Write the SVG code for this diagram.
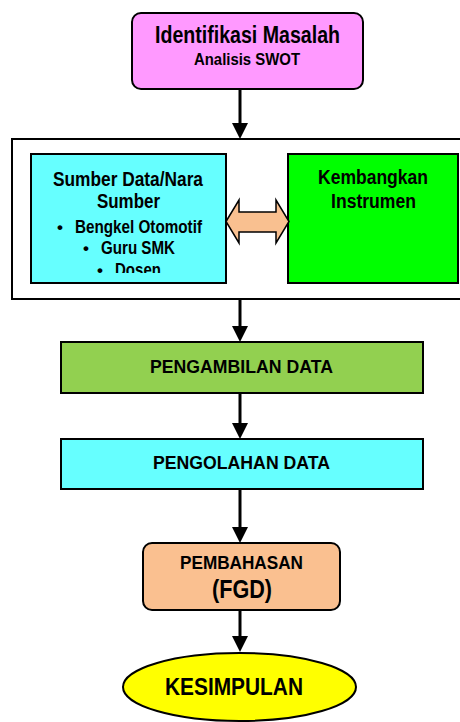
<svg xmlns="http://www.w3.org/2000/svg" width="460" height="722" viewBox="0 0 460 722">
  <style>
    .t { font-family: "Liberation Sans", Arial, sans-serif; font-weight: bold; fill: #000; text-anchor: middle; }
    .box { stroke: #000; stroke-width: 2; }
    .conn { stroke: #000; stroke-width: 3; fill: none; marker-end: url(#ah); }
  </style>
  <defs>
    <marker id="ah" markerUnits="userSpaceOnUse" markerWidth="16" markerHeight="16" refX="6" refY="8" orient="auto">
      <path d="M0,0 L16,8 L0,16 z" fill="#000"/>
    </marker>
    <clipPath id="clipCyan">
      <rect x="31" y="154" width="195" height="119"/>
    </clipPath>
  </defs>
  <rect x="0" y="0" width="460" height="722" fill="#fff"/>

  <g id="frame">
    <rect x="12" y="139" width="460" height="160" fill="none" stroke="#000" stroke-width="2"/>
  </g>

  <g id="identifikasi">
    <rect class="box" x="132" y="13" width="231" height="76" rx="9" fill="#FF99FF"/>
    <text class="t" x="247.5" y="43" font-size="23" textLength="185" lengthAdjust="spacingAndGlyphs">Identifikasi Masalah</text>
    <text class="t" x="247" y="65" font-size="17" textLength="106" lengthAdjust="spacingAndGlyphs">Analisis SWOT</text>
  </g>

  <g id="sumber">
    <rect class="box" x="31" y="154" width="195" height="129" fill="#66FFFF"/>
    <g clip-path="url(#clipCyan)">
      <text class="t" x="128" y="186" font-size="20" textLength="150" lengthAdjust="spacingAndGlyphs">Sumber Data/Nara</text>
      <text class="t" x="128.5" y="208" font-size="20" textLength="63" lengthAdjust="spacingAndGlyphs">Sumber</text>
      <text class="t" x="60" y="233" font-size="17">•</text>
      <text class="t" x="138.5" y="233" font-size="18" textLength="127" lengthAdjust="spacingAndGlyphs">Bengkel Otomotif</text>
      <text class="t" x="86" y="254" font-size="17">•</text>
      <text class="t" x="138" y="254" font-size="18" textLength="74" lengthAdjust="spacingAndGlyphs">Guru SMK</text>
      <text class="t" x="100" y="276" font-size="17">•</text>
      <text class="t" x="138" y="276" font-size="18" textLength="46" lengthAdjust="spacingAndGlyphs">Dosen</text>
    </g>
  </g>

  <g id="instrumen">
    <rect class="box" x="288" y="154" width="170" height="129" fill="#00FF00"/>
    <text class="t" x="373" y="184" font-size="20" textLength="110" lengthAdjust="spacingAndGlyphs">Kembangkan</text>
    <text class="t" x="373.5" y="208" font-size="20" textLength="85" lengthAdjust="spacingAndGlyphs">Instrumen</text>
  </g>

  <g id="pengambilan">
    <rect class="box" x="61" y="342" width="362" height="51" fill="#92D050"/>
    <text class="t" x="241.5" y="373" font-size="19" textLength="183" lengthAdjust="spacingAndGlyphs">PENGAMBILAN DATA</text>
  </g>

  <g id="pengolahan">
    <rect class="box" x="61" y="439" width="362" height="50" fill="#66FFFF"/>
    <text class="t" x="241.5" y="469" font-size="19" textLength="177" lengthAdjust="spacingAndGlyphs">PENGOLAHAN DATA</text>
  </g>

  <g id="pembahasan">
    <rect class="box" x="143" y="543" width="197" height="67" rx="9" fill="#FAC090"/>
    <text class="t" x="241.5" y="569" font-size="19" textLength="123" lengthAdjust="spacingAndGlyphs">PEMBAHASAN</text>
    <text class="t" x="242" y="598" font-size="25" textLength="60" lengthAdjust="spacingAndGlyphs">(FGD)</text>
  </g>

  <g id="kesimpulan">
    <ellipse class="box" cx="239.5" cy="687" rx="116.5" ry="34" fill="#FFFF00"/>
    <text class="t" x="234" y="695" font-size="23" textLength="138" lengthAdjust="spacingAndGlyphs">KESIMPULAN</text>
  </g>

  <g id="connectors">
    <line class="conn" x1="240" y1="89" x2="240" y2="129"/>
    <line class="conn" x1="240" y1="299" x2="240" y2="332"/>
    <line class="conn" x1="240" y1="393" x2="240" y2="429"/>
    <line class="conn" x1="240" y1="489" x2="240" y2="533"/>
    <line class="conn" x1="240" y1="610" x2="240" y2="642"/>
    <polygon points="226,221.5 239,200 239,212 276,212 276,200 289,221.5 276,243 276,232 239,232 239,243" fill="#F9C090" stroke="#000" stroke-width="1.5" stroke-linejoin="miter"/>
  </g>
</svg>
